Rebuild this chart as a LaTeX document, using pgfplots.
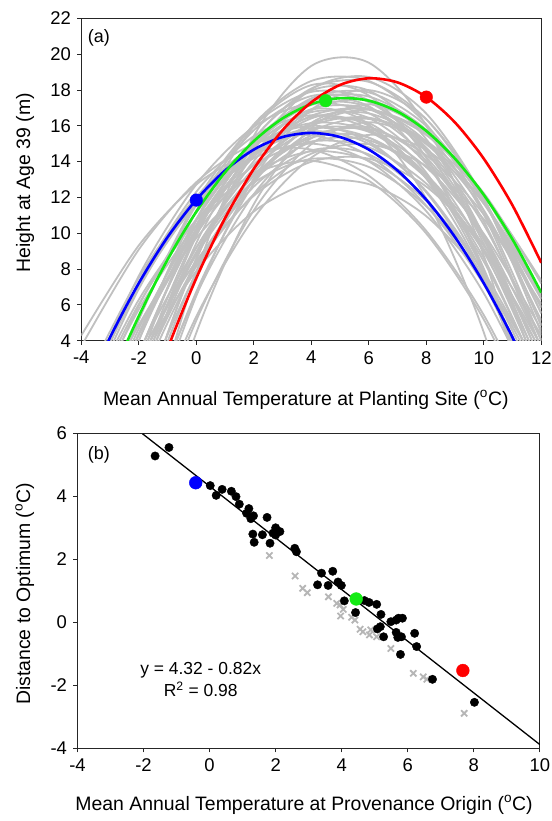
\documentclass[border=0pt]{standalone}
\usepackage{fontspec}
\setmainfont{Liberation Sans}
\usepackage{pgfplots}
\pgfplotsset{compat=1.18}
\definecolor{curvegray}{RGB}{192,192,192}
\definecolor{xgray}{RGB}{182,182,182}
\definecolor{pblue}{RGB}{0,0,255}
\definecolor{pgreen}{RGB}{20,235,20}
\definecolor{pred}{RGB}{255,0,0}
\pgfplotsset{
  myax/.style={
    scale only axis,
    axis line style={black!85, line width=0.8bp},
    tick align=outside,
    xtick pos=bottom, ytick pos=left,
    major tick length=4bp,
    tick style={black!85, line width=0.8bp},
    tick label style={font=\fontsize{18.5}{22}\selectfont},
    xticklabel style={yshift=-3bp},
    yticklabel style={xshift=-3bp},
    label style={font=\fontsize{19.5}{23}\selectfont},
    /pgf/number format/assume math mode=true,
  },
  grayc/.style={color=curvegray, line width=1.8bp, smooth, no marks},
  colc/.style={line width=2.6bp, smooth, no marks},
}
\begin{document}
\begin{tikzpicture}
\path[use as bounding box] (0,0) rectangle (552bp,821bp);

% panel (a)
\begin{axis}[myax,
  at={(81.3bp,480.3bp)}, anchor=south west,
  width=460bp, height=322.4bp,
  xmin=-4, xmax=12, ymin=4, ymax=22,
  xtick={-4,-2,...,12}, ytick={4,6,...,22},
  xlabel={Mean Annual Temperature at Planting Site (\textsuperscript{o}C)},
  ylabel={Height at Age 39 (m)},
  xlabel style={at={(axis description cs:0.488,-0.184)}, anchor=center},
  ylabel style={at={(axis description cs:-0.122,0.49)}, anchor=center, rotate=0},
]
\addplot[grayc] coordinates {(-4,-18.57) (-2,-3.52) (0,7.82) (2,15.43) (4,19.34) (6,19.52) (8,15.99) (10,8.74) (12,-2.22)};
\addplot[grayc] coordinates {(-4,-11.87) (-2,-0.31) (0,8.52) (2,14.64) (4,18.04) (6,18.72) (8,16.68) (10,11.92) (12,4.44)};
\addplot[grayc] coordinates {(-4,-7.93) (-2,2.26) (0,9.99) (2,15.26) (4,18.08) (6,18.45) (8,16.36) (10,11.83) (12,4.83)};
\addplot[grayc] coordinates {(-4,-9.12) (-2,1.71) (0,9.84) (2,15.25) (4,17.96) (6,17.96) (8,15.25) (10,9.84) (12,1.71)};
\addplot[grayc] coordinates {(-4,-3.75) (-2,5.19) (0,11.78) (2,16.01) (4,17.89) (6,17.42) (8,14.60) (10,9.42) (12,1.90)};
\addplot[grayc] coordinates {(-4,-14.83) (-2,-2.80) (0,6.50) (2,13.06) (4,16.89) (6,17.99) (8,16.35) (10,11.97) (12,4.86)};
\addplot[grayc] coordinates {(-4,-4.12) (-2,4.37) (0,10.80) (2,15.15) (4,17.43) (6,17.63) (8,15.77) (10,11.83) (12,5.82)};
\addplot[grayc] coordinates {(-4,-9.80) (-2,1.24) (0,9.45) (2,14.83) (4,17.37) (6,17.09) (8,13.98) (10,8.03) (12,-0.74)};
\addplot[grayc] coordinates {(-4,-8.09) (-2,1.55) (0,8.92) (2,14.03) (4,16.86) (6,17.43) (8,15.73) (10,11.76) (12,5.52)};
\addplot[grayc] coordinates {(-4,0.62) (-2,7.62) (0,12.72) (2,15.94) (4,17.26) (6,16.70) (8,14.24) (10,9.89) (12,3.65)};
\addplot[grayc] coordinates {(-4,-4.62) (-2,4.00) (0,10.47) (2,14.78) (4,16.93) (6,16.93) (8,14.78) (10,10.47) (12,4.00)};
\addplot[grayc] coordinates {(-4,-13.18) (-2,-1.92) (0,6.73) (2,12.76) (4,16.16) (6,16.95) (8,15.11) (10,10.66) (12,3.59)};
\addplot[grayc] coordinates {(-4,-4.22) (-2,4.38) (0,10.74) (2,14.87) (4,16.76) (6,16.43) (8,13.86) (10,9.06) (12,2.03)};
\addplot[grayc] coordinates {(-4,-3.41) (-2,4.35) (0,10.24) (2,14.26) (4,16.41) (6,16.69) (8,15.10) (10,11.64) (12,6.31)};
\addplot[grayc] coordinates {(-4,0.25) (-2,7.26) (0,12.31) (2,15.42) (4,16.59) (6,15.81) (8,13.09) (10,8.42) (12,1.81)};
\addplot[grayc] coordinates {(-4,-11.63) (-2,-0.51) (0,7.82) (2,13.38) (4,16.15) (6,16.15) (8,13.38) (10,7.82) (12,-0.51)};
\addplot[grayc] coordinates {(-4,-7.41) (-2,1.39) (0,8.18) (2,12.94) (4,15.67) (6,16.38) (8,15.06) (10,11.72) (12,6.35)};
\addplot[grayc] coordinates {(-4,1.33) (-2,7.51) (0,12.03) (2,14.91) (4,16.15) (6,15.74) (8,13.68) (10,9.97) (12,4.62)};
\addplot[grayc] coordinates {(-4,-6.50) (-2,2.48) (0,9.18) (2,13.61) (4,15.77) (6,15.66) (8,13.27) (10,8.61) (12,1.68)};
\addplot[grayc] coordinates {(-4,-4.39) (-2,3.33) (0,9.20) (2,13.25) (4,15.45) (6,15.82) (8,14.35) (10,11.04) (12,5.90)};
\addplot[grayc] coordinates {(-4,-1.23) (-2,5.95) (0,11.16) (2,14.40) (4,15.68) (6,14.99) (8,12.34) (10,7.72) (12,1.13)};
\addplot[grayc] coordinates {(-4,3.69) (-2,9.09) (0,12.85) (2,14.98) (4,15.47) (6,14.32) (8,11.54) (10,7.13) (12,1.08)};
\addplot[grayc] coordinates {(-4,-5.63) (-2,2.60) (0,8.79) (2,12.96) (4,15.09) (6,15.19) (8,13.26) (10,9.30) (12,3.31)};
\addplot[grayc] coordinates {(-4,-0.35) (-2,6.04) (0,10.75) (2,13.78) (4,15.12) (6,14.79) (8,12.77) (10,9.07) (12,3.69)};
\addplot[grayc] coordinates {(-4,-5.11) (-2,2.40) (0,8.16) (2,12.17) (4,14.44) (6,14.97) (8,13.74) (10,10.78) (12,6.06)};
\addplot[grayc] coordinates {(-4,-6.96) (-2,1.81) (0,8.33) (2,12.60) (4,14.62) (6,14.40) (8,11.92) (10,7.20) (12,0.23)};
\addplot[grayc] coordinates {(-4,-0.66) (-2,5.74) (0,10.41) (2,13.35) (4,14.57) (6,14.05) (8,11.80) (10,7.82) (12,2.11)};
\addplot[grayc] coordinates {(-4,0.01) (-2,6.29) (0,10.72) (2,13.30) (4,14.04) (6,12.93) (8,9.98) (10,5.18) (12,-1.46)};
\addplot[grayc] coordinates {(-4,-4.01) (-2,3.09) (0,8.45) (2,12.09) (4,13.99) (6,14.16) (8,12.60) (10,9.32) (12,4.30)};
\addplot[grayc] coordinates {(-4,-3.87) (-2,2.86) (0,7.89) (2,11.21) (4,12.83) (6,12.74) (8,10.95) (10,7.46) (12,2.26)};
\addplot[grayc] coordinates {(-4,4.29) (-2,9.32) (0,12.72) (2,14.51) (4,14.67) (6,13.21) (8,10.13) (10,5.43) (12,-0.90)};
\addplot[grayc] coordinates {(-4,-18.74) (-2,-5.69) (0,4.44) (2,11.62) (4,15.88) (6,17.20) (8,15.58) (10,11.04) (12,3.56)};
\addplot[grayc] coordinates {(-4,-8.43) (-2,2.60) (0,10.72) (2,15.95) (4,18.27) (6,17.69) (8,14.21) (10,7.82) (12,-1.47)};
\addplot[grayc] coordinates {(-4,-14.54) (-2,-3.47) (0,5.13) (2,11.28) (4,14.97) (6,16.20) (8,14.97) (10,11.28) (12,5.13)};
\addplot[grayc] coordinates {(-4,-12.95) (-2,-0.51) (0,8.61) (2,14.41) (4,16.90) (6,16.07) (8,11.92) (10,4.46) (12,-6.32)};
\addplot[grayc] coordinates {(-4,-3.03) (-2,4.33) (0,9.95) (2,13.85) (4,16.01) (6,16.45) (8,15.15) (10,12.12) (12,7.36)};
\addplot[grayc] coordinates {(-4,-3.51) (-2,5.16) (0,11.58) (2,15.75) (4,17.66) (6,17.32) (8,14.73) (10,9.89) (12,2.79)};
\addplot[grayc] coordinates {(-4,-2.89) (-2,4.67) (0,10.44) (2,14.40) (4,16.56) (6,16.92) (8,15.48) (10,12.24) (12,7.19)};
\addplot[grayc] coordinates {(-4,-5.97) (-2,2.55) (0,8.94) (2,13.20) (4,15.33) (6,15.33) (8,13.20) (10,8.94) (12,2.55)};
\addplot[grayc] coordinates {(-4,-0.07) (-2,6.89) (0,11.88) (2,14.92) (4,16.00) (6,15.12) (8,12.28) (10,7.47) (12,0.72)};
\addplot[grayc] coordinates {(-4,-9.13) (-2,0.41) (0,7.78) (2,12.99) (4,16.02) (6,16.89) (8,15.59) (10,12.12) (12,6.48)};
\addplot[grayc] coordinates {(-4,-6.24) (-2,3.19) (0,10.23) (2,14.89) (4,17.16) (6,17.04) (8,14.53) (10,9.64) (12,2.35)};
\addplot[grayc] coordinates {(-4,0.57) (-2,7.00) (0,11.69) (2,14.65) (4,15.87) (6,15.34) (8,13.08) (10,9.09) (12,3.35)};
\addplot[grayc] coordinates {(-4,-6.02) (-2,3.20) (0,10.20) (2,14.98) (4,17.53) (6,17.86) (8,15.98) (10,11.87) (12,5.53)};
\addplot[grayc] coordinates {(-4,-6.15) (-2,3.20) (0,10.09) (2,14.52) (4,16.49) (6,16.00) (8,13.04) (10,7.63) (12,-0.24)};
\addplot[grayc] coordinates {(-4,-12.18) (-2,-1.56) (0,6.56) (2,12.18) (4,15.30) (6,15.92) (8,14.05) (10,9.68) (12,2.81)};
\addplot[grayc] coordinates {(-4,0.99) (-2,7.19) (0,11.59) (2,14.19) (4,15.00) (6,14.01) (8,11.23) (10,6.65) (12,0.27)};
\addplot[grayc] coordinates {(-4,-5.66) (-2,4.00) (0,11.25) (2,16.08) (4,18.50) (6,18.50) (8,16.08) (10,11.25) (12,4.00)};
\addplot[grayc] coordinates {(-4,-11.97) (-2,-2.25) (0,5.35) (2,10.84) (4,14.22) (6,15.49) (8,14.65) (10,11.69) (12,6.62)};
\addplot[grayc] coordinates {(-4,-1.74) (-2,4.88) (0,9.73) (2,12.82) (4,14.15) (6,13.70) (8,11.50) (10,7.53) (12,1.79)};
% highlighted provenances
\addplot[colc, pblue] coordinates {(-4,0.69) (-3,4.18) (-2,7.21) (-1,9.78) (0,11.87) (1,13.50) (2,14.67) (3,15.37) (4,15.60) (5,15.37) (6,14.67) (7,13.50) (8,11.87) (9,9.78) (10,7.21) (11,4.18) (12,0.69)};
\addplot[colc, pgreen] coordinates {(-4,-2.34) (-3,1.75) (-2,5.37) (-1,8.52) (0,11.20) (1,13.40) (2,15.14) (3,16.41) (4,17.21) (5,17.54) (6,17.40) (7,16.79) (8,15.71) (9,14.16) (10,12.14) (11,9.65) (12,6.68)};
\addplot[colc, pred] coordinates {(-2,-1.00) (-1,3.54) (0,7.49) (1,10.84) (2,13.59) (3,15.75) (4,17.31) (5,18.28) (6,18.65) (7,18.42) (8,17.60) (9,16.18) (10,14.16) (11,11.55) (12,8.35)};
\addplot[only marks, mark=*, mark size=6.3bp, pblue] coordinates {(0,11.85)};
\addplot[only marks, mark=*, mark size=6.3bp, pgreen] coordinates {(4.5,17.4)};
\addplot[only marks, mark=*, mark size=6.3bp, pred] coordinates {(8,17.6)};
\node[anchor=west, inner sep=0pt, font=\fontsize{18}{21}\selectfont] at (axis description cs:0.014,0.94) {(a)};
\end{axis}

% panel (b)
\begin{axis}[myax,
  at={(77.5bp,72.7bp)}, anchor=south west,
  width=462.3bp, height=315bp,
  xmin=-4, xmax=10, ymin=-4, ymax=6,
  xtick={-4,-2,...,10}, ytick={-4,-2,...,6},
  xlabel={Mean Annual Temperature at Provenance Origin (\textsuperscript{o}C)},
  ylabel={Distance to Optimum (\textsuperscript{o}C)},
  xlabel style={at={(axis description cs:0.49,-0.18)}, anchor=center},
  ylabel style={at={(axis description cs:-0.114,0.49)}, anchor=center, rotate=0},
]
\addplot[only marks, mark=x, mark size=4.4bp, xgray, line width=1.8bp] coordinates {
(1.81,2.12) (2.59,1.47) (2.82,1.08) (2.96,0.94) (3.60,0.81) (3.85,0.60) (3.95,0.55)
(4.05,0.41) (3.97,0.20) (4.30,0.16) (4.40,0.07) (4.56,-0.22) (4.64,-0.30) (4.84,-0.40)
(4.88,-0.24) (5.06,-0.46) (5.49,-0.83) (6.17,-1.62) (6.47,-1.73) (6.58,-1.81) (7.71,-2.89)};
\addplot[black, line width=1.3bp, no marks] coordinates {(-2.03,5.985) (10,-3.88)};
\addplot[only marks, mark=*, mark size=4.2bp, black] coordinates {
(-1.65,5.28) (-1.23,5.55) (0.02,4.34) (0.20,4.03) (0.38,4.22) (0.66,4.16) (0.80,3.99)
(0.90,3.75) (1.19,3.61) (1.12,3.46) (1.25,3.29) (1.33,3.38) (1.31,2.80) (1.35,2.54)
(1.60,2.78) (1.74,3.33) (1.83,2.51) (1.92,2.83) (2.00,3.00) (2.13,2.88) (2.00,2.77)
(2.58,2.35) (2.63,2.24) (3.39,1.56) (3.27,1.19) (3.59,1.17) (3.73,1.62) (3.89,1.28)
(3.99,1.17) (4.08,0.68) (4.42,0.31) (4.69,0.69) (4.83,0.63) (5.06,0.57) (5.19,0.25)
(5.17,-0.14) (5.08,-0.21) (5.27,-0.46) (5.49,0.02) (5.65,0.07) (5.72,0.13) (5.84,0.13)
(5.65,-0.32) (5.70,-0.48) (5.81,-0.46) (5.78,-1.02) (6.21,-0.35) (6.27,-0.77) (6.75,-1.81)
(8.02,-2.54)};
\addplot[only marks, mark=*, mark size=6.4bp, pblue] coordinates {(-0.42,4.43)};
\addplot[only marks, mark=*, mark size=6.4bp, pgreen] coordinates {(4.44,0.74)};
\addplot[only marks, mark=*, mark size=6.4bp, pred] coordinates {(7.67,-1.53)};
\node[font=\fontsize{17.5}{21}\selectfont] at (axis cs:-0.27,-1.51) {y = 4.32 - 0.82x};
\node[font=\fontsize{17.5}{21}\selectfont] at (axis cs:-0.27,-2.12) {R\textsuperscript{2} = 0.98};
\node[anchor=west, inner sep=0pt, font=\fontsize{18}{21}\selectfont] at (axis description cs:0.022,0.93) {(b)};
\end{axis}
\end{tikzpicture}
\end{document}
